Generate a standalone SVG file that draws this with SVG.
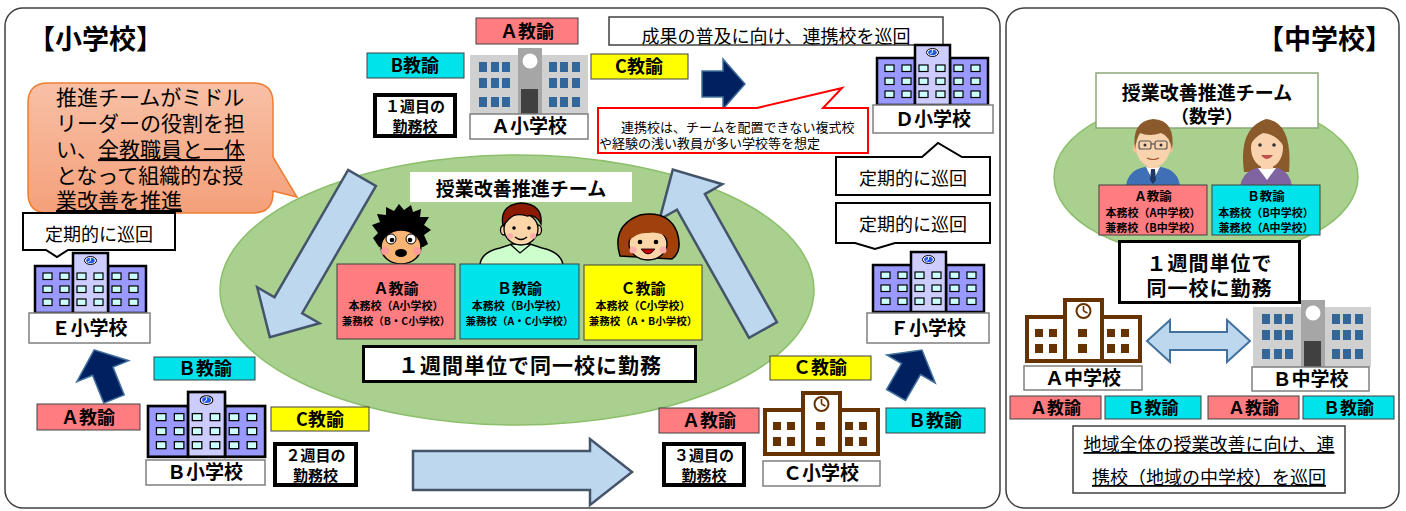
<svg xmlns="http://www.w3.org/2000/svg" xmlns:xlink="http://www.w3.org/1999/xlink" width="1406" height="511" viewBox="0 0 1406 511">
  <style>
    text { font-family: "Noto Sans CJK JP", "Noto Sans", sans-serif; fill: #000; }
    .b { font-weight: bold; }
    .m { text-anchor: middle; }
    .panel { fill: #fff; stroke: #404040; stroke-width: 1.5; }
    .tag { stroke: #404040; stroke-width: 1; }
    .pk { fill: #ff7c80; }
    .cy { fill: #00e3ea; }
    .ye { fill: #ffff00; }
    .lbl { fill: #fff; stroke: #7f7f7f; stroke-width: 1.5; }
    .thick { fill: #fff; stroke: #000; stroke-width: 4; }
    .thick3 { fill: #fff; stroke: #000; stroke-width: 3; }
    .bubble { fill: #fff; stroke: #000; stroke-width: 2; }
    .navy { fill: #002060; stroke: #41719c; stroke-width: 1.5; }
    .pale { fill: #bdd7ee; stroke: #44546a; stroke-width: 2.5; }
    .win { fill: #ccffff; stroke: #000; stroke-width: 1.2; }
    .gwin { fill: #336699; }
    .bwin { fill: #663300; }
    .skin { fill: #fcd5a8; stroke: #000; stroke-width: 1.3; }
    .u { text-decoration: underline; }
  </style>
  <defs>
    <linearGradient id="orange" x1="0" y1="0" x2="0" y2="1">
      <stop offset="0" stop-color="#f8c0a6"/>
      <stop offset="1" stop-color="#f4a07a"/>
    </linearGradient>
    <!-- purple school building, 111 x 60 -->
    <g id="bldg-purple">
      <rect x="0" y="13" width="38" height="47" fill="#9999ff" stroke="#000" stroke-width="2.5"/>
      <rect x="73" y="13" width="38" height="47" fill="#9999ff" stroke="#000" stroke-width="2.5"/>
      <rect x="38" y="0" width="35" height="60" fill="#ccccff" stroke="#000" stroke-width="2.5"/>
      <g class="win">
        <rect x="8" y="20" width="9" height="6.5"/><rect x="25" y="20" width="9" height="6.5"/>
        <rect x="8" y="33" width="9" height="6.5"/><rect x="25" y="33" width="9" height="6.5"/>
        <rect x="8" y="46" width="9" height="6.5"/><rect x="25" y="46" width="9" height="6.5"/>
        <rect x="42" y="20" width="9" height="6.5"/><rect x="59" y="20" width="9" height="6.5"/>
        <rect x="42" y="33" width="9" height="6.5"/><rect x="59" y="33" width="9" height="6.5"/>
        <rect x="42" y="46" width="9" height="6.5"/><rect x="59" y="46" width="9" height="6.5"/>
        <rect x="77" y="20" width="9" height="6.5"/><rect x="94" y="20" width="9" height="6.5"/>
        <rect x="77" y="33" width="9" height="6.5"/><rect x="94" y="33" width="9" height="6.5"/>
        <rect x="77" y="46" width="9" height="6.5"/><rect x="94" y="46" width="9" height="6.5"/>
      </g>
      <ellipse cx="55.5" cy="7.5" rx="6" ry="4" fill="#fff" stroke="#000" stroke-width="1"/>
      <ellipse cx="55.5" cy="7.5" rx="4.3" ry="2.8" fill="#2255ee"/>
      <path d="M55.5,7.5 L55.5,5 M55.5,7.5 L53,9" stroke="#fff" stroke-width="0.9"/>
    </g>
    <!-- gray school building, 118 x 67 -->
    <g id="bldg-gray">
      <rect x="0" y="7" width="48" height="60" fill="#d0d0d0"/>
      <rect x="72" y="7" width="46" height="60" fill="#d0d0d0"/>
      <rect x="48" y="0" width="24" height="67" fill="#a6a6a6"/>
      <g class="gwin">
        <rect x="9" y="14" width="8" height="10"/><rect x="21" y="14" width="8" height="10"/><rect x="32" y="14" width="8" height="10"/>
        <rect x="9" y="30" width="8" height="10"/><rect x="21" y="30" width="8" height="10"/><rect x="32" y="30" width="8" height="10"/>
        <rect x="9" y="49" width="8" height="10"/><rect x="21" y="49" width="8" height="10"/><rect x="32" y="49" width="8" height="10"/>
        <rect x="79" y="14" width="8" height="10"/><rect x="90" y="14" width="8" height="10"/><rect x="102" y="14" width="8" height="10"/>
        <rect x="79" y="30" width="8" height="10"/><rect x="90" y="30" width="8" height="10"/><rect x="102" y="30" width="8" height="10"/>
        <rect x="79" y="49" width="8" height="10"/><rect x="90" y="49" width="8" height="10"/><rect x="102" y="49" width="8" height="10"/>
      </g>
      <circle cx="60" cy="13" r="7.5" fill="#fff"/>
      <rect x="51" y="41" width="17" height="26" fill="#404040"/>
    </g>
    <!-- brown outlined school building, 117 x 65 -->
    <g id="bldg-brown">
      <g fill="#fff" stroke="#663300" stroke-width="4">
        <rect x="2" y="19" width="38" height="44"/>
        <rect x="77" y="19" width="38" height="44"/>
        <rect x="40" y="2" width="37" height="61"/>
      </g>
      <g class="bwin">
        <rect x="10" y="31" width="8" height="8"/><rect x="24" y="31" width="8" height="8"/>
        <rect x="10" y="46" width="8" height="9"/><rect x="24" y="46" width="8" height="9"/>
        <rect x="53" y="31" width="9" height="8"/><rect x="53" y="46" width="9" height="9"/>
        <rect x="82" y="31" width="8" height="8"/><rect x="96" y="31" width="8" height="8"/>
        <rect x="82" y="46" width="8" height="9"/><rect x="96" y="46" width="8" height="9"/>
      </g>
      <circle cx="58.5" cy="13" r="7" fill="none" stroke="#663300" stroke-width="2"/>
      <path d="M58.5,13 L58.5,8 M58.5,13 L62.5,15" stroke="#663300" stroke-width="1.6" fill="none"/>
    </g>
  </defs>

  <!-- panels -->
  <rect class="panel" x="5" y="8" width="995" height="500" rx="18"/>
  <rect class="panel" x="1006" y="8" width="393" height="500" rx="18"/>
  <text class="b" x="28" y="49" font-size="27">【小学校】</text>
  <text class="b" x="1257" y="49" font-size="27">【中学校】</text>

  <!-- elementary: team ellipse -->
  <g id="team-area">
    <ellipse cx="517" cy="290" rx="297" ry="135" fill="#a9d08e" stroke="#8cbf6b" stroke-width="1.5"/>
    <rect x="410" y="172" width="222" height="30" fill="#fff"/>
    <text class="b m" x="521" y="196" font-size="19">授業改善推進チーム</text>
  </g>

  <!-- connectors -->
  <g id="connectors">
    <polygon class="pale" transform="translate(362,178) rotate(120.06)" points="0,-16 147,-16 147,-36 184,0 147,36 147,16 0,16"/>
    <polygon class="pale" transform="translate(763,330) rotate(-119.36)" points="0,-16 147,-16 147,-36 184,0 147,36 147,16 0,16"/>
    <polygon class="pale" points="413,451 590,451 590,439 632,472 590,505 590,490 413,490"/>
    <polygon class="navy" points="702,71 723,71 723,59 745,84 723,109 723,97 702,97"/>
    <polygon class="navy" transform="translate(114,399) rotate(-112)" points="0,-11 30,-11 30,-28 53,0 30,28 30,11 0,11"/>
    <polygon class="navy" transform="translate(896,395) rotate(-60)" points="0,-11 30,-11 30,-28 52,0 30,28 30,11 0,11"/>
    <polygon points="1147,341 1170,320 1170,332 1227,332 1227,320 1250,341 1227,362 1227,350 1170,350 1170,362" fill="#bdd7ee" stroke="#41719c" stroke-width="2"/>
  </g>

  <!-- team members -->
  <g id="member-a">
    <polygon fill="#000" points="379,247 373,238 378,233 372,225 380,222 377,214 386,215 386,207 394,211 399,204 404,210 411,205 413,212 421,209 420,217 429,217 424,225 431,230 424,235 428,244 423,247"/>
    <ellipse cx="401" cy="247" rx="20" ry="17" fill="#f7b474" stroke="#000" stroke-width="1.5"/>
    <circle cx="391" cy="239" r="5" fill="#fff" stroke="#000"/>
    <circle cx="411" cy="239" r="5" fill="#fff" stroke="#000"/>
    <circle cx="392" cy="240" r="2.3" fill="#000"/>
    <circle cx="410" cy="240" r="2.3" fill="#000"/>
    <circle cx="385" cy="251" r="4" fill="#ff9a9a"/>
    <circle cx="417" cy="251" r="4" fill="#ff9a9a"/>
    <ellipse cx="401" cy="253" rx="6" ry="4" fill="#000"/>
    <rect class="tag pk" x="337" y="264" width="118" height="75"/>
    <text class="b m" x="396" y="294" font-size="15">Ａ教諭</text>
    <text class="b m" x="396" y="310" font-size="11">本務校（A小学校）</text>
    <text class="b m" x="396" y="325" font-size="10.5">兼務校（B・C小学校）</text>
  </g>
  <g id="member-b">
    <path d="M480,265 Q481,252 500,248 L512,244 L530,244 L542,248 Q561,252 563,265 Z" fill="#ccffcc" stroke="#000" stroke-width="1.5"/>
    <path d="M510,244 L520,253 L531,244" fill="none" stroke="#000" stroke-width="1.3"/>
    <ellipse cx="504" cy="230" rx="3.5" ry="5" class="skin"/>
    <ellipse cx="538" cy="230" rx="3.5" ry="5" class="skin"/>
    <ellipse cx="521" cy="229" rx="17" ry="16" class="skin"/>
    <path d="M503,226 Q499,205 521,203 Q543,204 541,224 Q536,214 527,216 Q515,212 509,219 Q506,222 503,226 Z" fill="#8b1a00" stroke="#000" stroke-width="1.3"/>
    <circle cx="514" cy="228" r="1.8" fill="#000"/>
    <circle cx="529" cy="228" r="1.8" fill="#000"/>
    <circle cx="510" cy="236" r="3" fill="#ffadad"/>
    <circle cx="533" cy="236" r="3" fill="#ffadad"/>
    <path d="M515,237 Q521,242 527,237" fill="none" stroke="#000" stroke-width="1.3"/>
    <rect class="tag cy" x="460" y="264" width="119" height="75"/>
    <text class="b m" x="519.5" y="294" font-size="15">Ｂ教諭</text>
    <text class="b m" x="519.5" y="310" font-size="11">本務校（B小学校）</text>
    <text class="b m" x="519.5" y="325" font-size="10.5">兼務校（A・C小学校）</text>
  </g>
  <g id="member-c">
    <path d="M620,256 Q611,226 640,215 Q668,210 677,232 Q683,251 672,259 Z" fill="#a0410d" stroke="#000" stroke-width="1.5"/>
    <ellipse cx="648" cy="244" rx="19" ry="16" class="skin"/>
    <path d="M629,241 Q632,223 652,223 Q669,225 669,239 Q660,231 648,233 Q637,232 629,241 Z" fill="#a0410d"/>
    <circle cx="640" cy="242" r="2.3" fill="#000"/>
    <circle cx="656" cy="242" r="2.3" fill="#000"/>
    <circle cx="633" cy="250" r="3.5" fill="#ffadad"/>
    <circle cx="663" cy="250" r="3.5" fill="#ffadad"/>
    <path d="M641,249 Q648,259 655,249 Z" fill="#c00000" stroke="#000" stroke-width="0.8"/>
    <rect class="tag ye" x="584" y="265" width="118" height="75"/>
    <text class="b m" x="643" y="294" font-size="15">Ｃ教諭</text>
    <text class="b m" x="643" y="310" font-size="11">本務校（C小学校）</text>
    <text class="b m" x="643" y="325" font-size="10.5">兼務校（A・B小学校）</text>
  </g>
  <g id="week-unit">
    <rect class="thick3" x="363.5" y="346.5" width="332" height="35"/>
    <text class="b m" x="530" y="373" font-size="21" letter-spacing="1">１週間単位で同一校に勤務</text>
  </g>

  <!-- callout: team role -->
  <g id="role-callout">
    <path d="M48,83 H253 Q273,83 273,103 V157 L297,197 L273,191 V193 Q273,213 253,213 H48 Q28,213 28,193 V103 Q28,83 48,83 Z" fill="url(#orange)" stroke="#ed7d31" stroke-width="1.5"/>
    <g font-size="21">
      <text x="56" y="105">推進チームがミドル</text>
      <text x="56" y="131">リーダーの役割を担</text>
      <text x="56" y="157">い、<tspan class="u">全教職員と一体</tspan></text>
      <text x="56" y="183">となって組織的な授</text>
      <text x="56" y="208"><tspan class="u">業改善を推進</tspan></text>
    </g>
  </g>

  <!-- A elementary school -->
  <g id="school-a">
    <use xlink:href="#bldg-gray" href="#bldg-gray" transform="translate(470,48)"/>
    <rect class="lbl" x="470" y="114" width="118" height="25"/>
    <text class="b m" x="529" y="133" font-size="19">Ａ小学校</text>
    <rect class="tag pk" x="476" y="18" width="102" height="26"/>
    <text class="b m" x="527" y="38" font-size="18">Ａ教諭</text>
    <rect class="tag cy" x="367" y="53" width="97" height="25"/>
    <text class="b m" x="415" y="72" font-size="18">B教諭</text>
    <rect class="tag ye" x="591" y="54" width="97" height="25"/>
    <text class="b m" x="639" y="73" font-size="18">C教諭</text>
    <rect class="thick" x="375" y="95" width="80" height="41"/>
    <text class="b m" x="415" y="112" font-size="15">１週目の</text>
    <text class="b m" x="415" y="132" font-size="15">勤務校</text>
  </g>

  <!-- outreach notes -->
  <g id="outreach-note">
    <rect x="609" y="17" width="334" height="28" fill="#fff" stroke="#404040" stroke-width="1.5"/>
    <text class="m" x="776" y="43" font-size="18">成果の普及に向け、連携校を巡回</text>
  </g>
  <g id="partner-note">
    <path d="M598,108 H757 L842,88 L823,108 H868 V153 H598 Z" fill="#fff" stroke="#ff0000" stroke-width="2"/>
    <text x="621" y="132" font-size="13">連携校は、チームを配置できない複式校</text>
    <text x="599" y="148" font-size="13">や経験の浅い教員が多い学校等を想定</text>
  </g>

  <!-- D elementary school -->
  <g id="school-d">
    <use xlink:href="#bldg-purple" href="#bldg-purple" transform="translate(877,45)"/>
    <rect class="lbl" x="873" y="105" width="120" height="28"/>
    <text class="b m" x="933" y="126" font-size="19">Ｄ小学校</text>
    <path class="bubble" d="M836,157 H922 L938,143 L962,157 H990 V195 H836 Z"/>
    <text class="m" x="913" y="185" font-size="18">定期的に巡回</text>
  </g>

  <!-- F elementary school -->
  <g id="school-f">
    <path class="bubble" d="M836,203 H990 V243 H895 L875,249 L855,243 H836 Z"/>
    <text class="m" x="913" y="231" font-size="18">定期的に巡回</text>
    <use xlink:href="#bldg-purple" href="#bldg-purple" transform="translate(873,252)"/>
    <rect class="lbl" x="867" y="313" width="122" height="30"/>
    <text class="b m" x="928" y="335" font-size="19">Ｆ小学校</text>
  </g>

  <!-- E elementary school -->
  <g id="school-e">
    <path class="bubble" d="M23,213 H175 V250 H68 L57,257 L46,250 H23 Z"/>
    <text class="m" x="99" y="241" font-size="18">定期的に巡回</text>
    <use xlink:href="#bldg-purple" href="#bldg-purple" transform="translate(35,253)"/>
    <rect class="lbl" x="29" y="313" width="121" height="30"/>
    <text class="b m" x="89.5" y="335" font-size="19">Ｅ小学校</text>
  </g>

  <!-- B elementary school -->
  <g id="school-b">
    <use xlink:href="#bldg-purple" href="#bldg-purple" transform="translate(148,392) scale(1.055,1.08)"/>
    <rect class="lbl" x="146" y="460" width="119" height="25"/>
    <text class="b m" x="205" y="479" font-size="19">Ｂ小学校</text>
    <rect class="tag cy" x="154" y="357" width="101" height="23"/>
    <text class="b m" x="205" y="375" font-size="18">Ｂ教諭</text>
    <rect class="tag pk" x="37" y="404" width="103" height="26"/>
    <text class="b m" x="88" y="424" font-size="18">Ａ教諭</text>
    <rect class="tag ye" x="271" y="407" width="98" height="24"/>
    <text class="b m" x="320" y="426" font-size="18">C教諭</text>
    <rect class="thick" x="275" y="444" width="81" height="41"/>
    <text class="b m" x="315.5" y="461" font-size="15">２週目の</text>
    <text class="b m" x="315.5" y="481" font-size="15">勤務校</text>
  </g>

  <!-- C elementary school -->
  <g id="school-c">
    <use xlink:href="#bldg-brown" href="#bldg-brown" transform="translate(763,391)"/>
    <rect class="lbl" x="763" y="461" width="117" height="25"/>
    <text class="b m" x="821" y="480" font-size="19">Ｃ小学校</text>
    <rect class="tag ye" x="770" y="356" width="101" height="24"/>
    <text class="b m" x="820" y="374" font-size="18">Ｃ教諭</text>
    <rect class="tag pk" x="659" y="408" width="100" height="25"/>
    <text class="b m" x="709" y="427" font-size="18">Ａ教諭</text>
    <rect class="tag cy" x="886" y="408" width="99" height="25"/>
    <text class="b m" x="935" y="427" font-size="18">Ｂ教諭</text>
    <rect class="thick" x="664" y="444" width="80" height="41"/>
    <text class="b m" x="704" y="461" font-size="15">３週目の</text>
    <text class="b m" x="704" y="481" font-size="15">勤務校</text>
  </g>

  <!-- junior high: team -->
  <g id="jh-team">
    <ellipse cx="1206" cy="177" rx="152" ry="80" fill="#a9d08e" stroke="#8cbf6b" stroke-width="1.5"/>
    <rect x="1096" y="73" width="222" height="55" fill="#fff" stroke="#8aa878" stroke-width="1.5"/>
    <text class="b m" x="1207" y="100" font-size="19">授業改善推進チーム</text>
    <text class="b m" x="1207" y="123" font-size="18">（数学）</text>
  </g>
  <g id="jh-member-a">
    <path d="M1126,186 Q1128,170 1145,167 L1161,167 Q1178,170 1180,186 Z" fill="#3f6fb5"/>
    <path d="M1146,167 L1153,181 L1160,167 Z" fill="#fff"/>
    <path d="M1151,169 L1155,169 L1156,180 L1153,184 L1150,180 Z" fill="#1f3864"/>
    <rect x="1147" y="158" width="12" height="10" fill="#f9d2ae"/>
    <ellipse cx="1136" cy="148" rx="3" ry="5" fill="#f2c29a"/>
    <ellipse cx="1170" cy="148" rx="3" ry="5" fill="#f2c29a"/>
    <ellipse cx="1153" cy="147" rx="17" ry="20" fill="#f9d2ae"/>
    <path d="M1135,150 Q1131,121 1153,119 Q1176,120 1172,150 Q1170,136 1161,133 Q1149,137 1140,133 Q1136,139 1135,150 Z" fill="#8b5a2b"/>
    <rect x="1139" y="141" width="12" height="8" rx="2" fill="none" stroke="#555" stroke-width="1.2"/>
    <rect x="1155" y="141" width="12" height="8" rx="2" fill="none" stroke="#555" stroke-width="1.2"/>
    <path d="M1151,144 H1155" stroke="#555" stroke-width="1.2"/>
    <circle cx="1145" cy="145" r="1.5" fill="#333"/>
    <circle cx="1161" cy="145" r="1.5" fill="#333"/>
    <path d="M1147,158 Q1153,161 1159,158" fill="none" stroke="#a0522d" stroke-width="1.2"/>
    <rect class="tag pk" x="1099" y="185" width="108" height="50"/>
    <text class="b m" x="1153" y="201" font-size="12.5">Ａ教諭</text>
    <text class="b m" x="1153" y="217" font-size="11">本務校（A中学校）</text>
    <text class="b m" x="1153" y="232" font-size="11">兼務校（B中学校）</text>
  </g>
  <g id="jh-member-b">
    <path d="M1244,172 Q1238,128 1266,119 Q1293,122 1289,172 Z" fill="#8b5a2b"/>
    <path d="M1240,186 Q1243,172 1256,168 L1278,168 Q1290,172 1292,186 Z" fill="#8064a2"/>
    <path d="M1258,168 L1267,180 L1276,168 Z" fill="#fff"/>
    <rect x="1261" y="158" width="12" height="11" fill="#f9d2ae"/>
    <ellipse cx="1267" cy="148" rx="16" ry="20" fill="#f9d2ae"/>
    <path d="M1250,146 Q1251,125 1268,125 Q1285,127 1284,147 Q1277,134 1263,133 Q1254,137 1250,146 Z" fill="#8b5a2b"/>
    <circle cx="1260" cy="145" r="1.8" fill="#333"/>
    <circle cx="1274" cy="145" r="1.8" fill="#333"/>
    <path d="M1261,155 Q1267,163 1273,155 Z" fill="#c0504d"/>
    <rect class="tag cy" x="1212" y="185" width="108" height="50"/>
    <text class="b m" x="1266" y="201" font-size="12.5">Ｂ教諭</text>
    <text class="b m" x="1266" y="217" font-size="11">本務校（B中学校）</text>
    <text class="b m" x="1266" y="232" font-size="11">兼務校（A中学校）</text>
  </g>
  <g id="jh-week-unit">
    <rect class="thick3" x="1119.5" y="241.5" width="180" height="61"/>
    <text class="b m" x="1209.5" y="271" font-size="20" letter-spacing="1">１週間単位で</text>
    <text class="b m" x="1209.5" y="296" font-size="20" letter-spacing="1">同一校に勤務</text>
  </g>

  <!-- A junior high school -->
  <g id="jh-school-a">
    <use xlink:href="#bldg-brown" href="#bldg-brown" transform="translate(1025,298)"/>
    <rect class="lbl" x="1024" y="366" width="118" height="24"/>
    <text class="b m" x="1083" y="385" font-size="19">Ａ中学校</text>
    <rect class="tag pk" x="1010" y="396" width="91" height="23"/>
    <text class="b m" x="1055.5" y="414" font-size="17">Ａ教諭</text>
    <rect class="tag cy" x="1105" y="396" width="96" height="23"/>
    <text class="b m" x="1153" y="414" font-size="17">Ｂ教諭</text>
  </g>

  <!-- B junior high school -->
  <g id="jh-school-b">
    <use xlink:href="#bldg-gray" href="#bldg-gray" transform="translate(1253,300)"/>
    <rect class="lbl" x="1252" y="367" width="117" height="24"/>
    <text class="b m" x="1310.5" y="386" font-size="19">Ｂ中学校</text>
    <rect class="tag pk" x="1208" y="396" width="91" height="23"/>
    <text class="b m" x="1253.5" y="414" font-size="17">Ａ教諭</text>
    <rect class="tag cy" x="1303" y="396" width="91" height="23"/>
    <text class="b m" x="1348.5" y="414" font-size="17">Ｂ教諭</text>
  </g>

  <!-- junior high outreach note -->
  <g id="jh-outreach">
    <rect x="1073" y="426" width="272" height="67" fill="#fff" stroke="#404040" stroke-width="1.5"/>
    <text class="m u" x="1209" y="451" font-size="18">地域全体の授業改善に向け、連</text>
    <text class="m u" x="1209" y="484" font-size="18">携校（地域の中学校）を巡回</text>
  </g>
</svg>
